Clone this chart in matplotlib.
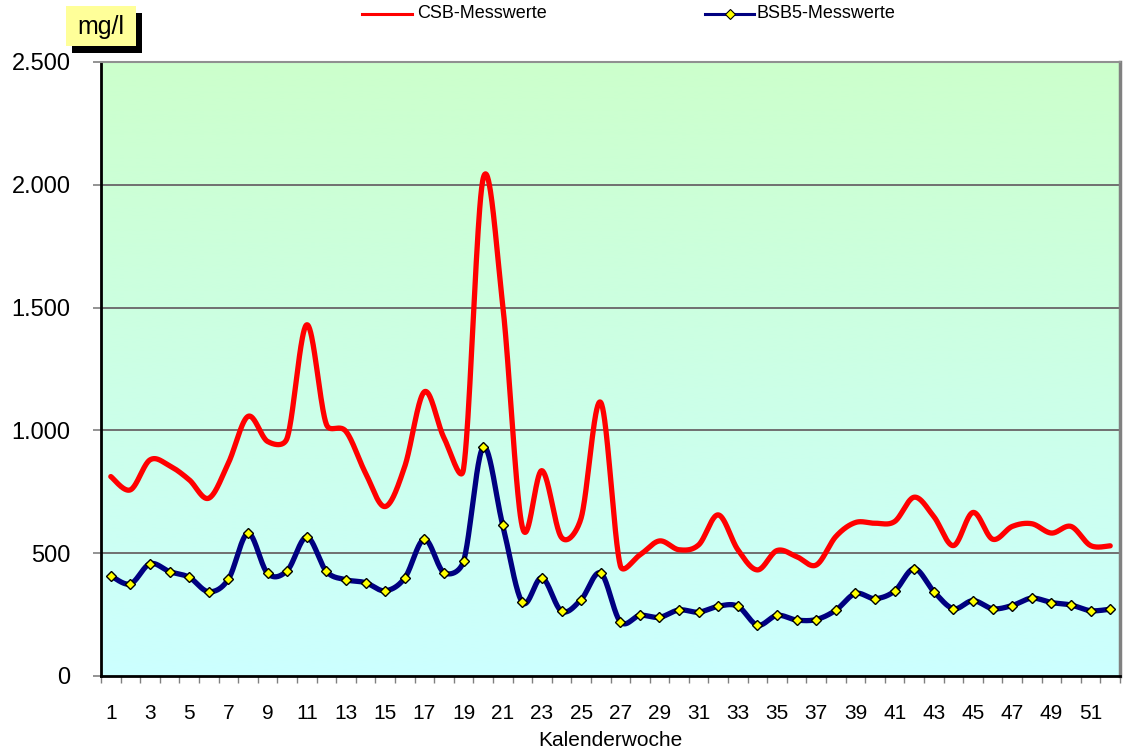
import numpy as np
import matplotlib
matplotlib.use("Agg")
import matplotlib.pyplot as plt
from matplotlib.patches import Rectangle
from matplotlib.lines import Line2D

weeks = list(range(1, 53))
csb = [812, 758, 880, 856, 799, 724, 867, 1057, 955, 969,
       1430, 1025, 996, 826, 690, 853, 1157, 970, 843, 2025,
       1510, 607, 836, 564, 643, 1114, 450, 493, 550, 514,
       534, 656, 514, 432, 511, 486, 452, 568, 625, 622,
       629, 728, 649, 531, 666, 557, 609, 620, 582, 609,
       531, 530]
bsb5 = [408, 375, 457, 425, 402, 343, 394, 581, 418, 429,
        566, 426, 392, 380, 347, 399, 557, 421, 467, 931,
        614, 300, 400, 264, 311, 419, 221, 247, 239, 269,
        260, 284, 284, 207, 247, 228, 230, 268, 336, 315,
        346, 437, 344, 274, 307, 274, 287, 317, 299, 289,
        266, 272]
yticks = [0, 500, 1000, 1500, 2000, 2500]
ytick_labels = ["0", "500", "1.000", "1.500", "2.000", "2.500"]
xtick_vals = list(range(1, 52, 2))
series_names = ["CSB-Messwerte", "BSB5-Messwerte"]
unit_label = "mg/l"
x_title = "Kalenderwoche"

FONT = "Liberation Sans"
plt.rcParams['font.family'] = [FONT, 'DejaVu Sans']

W, H = 1124, 755
fig = plt.figure(figsize=(W / 100, H / 100), dpi=100)
ax = fig.add_axes([101 / W, 79 / H, (1120 - 101) / W, 614 / H])
ax.set_xlim(0.5, 52.5)
ax.set_ylim(0, 2500)


def smooth(x, y, n=40):
    """Excel-style smoothed line: Bezier segments built in display space."""
    pts = ax.transData.transform(np.column_stack([x, y]).astype(float))
    m = len(pts)
    out = []
    for i in range(m - 1):
        p0 = pts[max(i - 1, 0)]
        p1 = pts[i]
        p2 = pts[i + 1]
        p3 = pts[min(i + 2, m - 1)]
        d02 = np.hypot(*(p2 - p0))
        d12 = np.hypot(*(p2 - p1))
        d13 = np.hypot(*(p3 - p1))
        f0 = 1 / 6
        f1 = 1 / 6
        if d02 / 6 >= d12 / 2 and d02 > 0:
            f0 = d12 / d02 / 2
        if d13 / 6 >= d12 / 2 and d13 > 0:
            f1 = d12 / d13 / 2
        c1 = p1 + f0 * (p2 - p0)
        c2 = p2 - f1 * (p3 - p1)
        t = np.linspace(0, 1, n, endpoint=(i == m - 2))[:, None]
        seg = ((1 - t) ** 3) * p1 + 3 * ((1 - t) ** 2) * t * c1 \
            + 3 * (1 - t) * t ** 2 * c2 + t ** 3 * p2
        out.append(seg)
    out = np.vstack(out)
    data = ax.transData.inverted().transform(out)
    return data[:, 0], data[:, 1]


# background gradient
top = np.array([204, 255, 204]) / 255
bot = np.array([204, 255, 255]) / 255
t = np.linspace(0, 1, 256)[:, None]
grad = (top[None, :] * (1 - t) + bot[None, :] * t)[:, None, :]
ax.imshow(grad, extent=(0.5, 52.5, 0, 2500), aspect='auto', zorder=0,
          interpolation='bilinear')
ax.set_xlim(0.5, 52.5)
ax.set_ylim(0, 2500)

for v in yticks[1:-1]:
    ax.axhline(v, color='#707070', lw=1.4, zorder=1)

xs, ys = smooth(weeks, csb)
ax.plot(xs, ys, color='#ff0000', lw=3.8, zorder=3, solid_capstyle='round')
xb, yb = smooth(weeks, bsb5)
ax.plot(xb, yb, color='#000080', lw=3.8, zorder=4, solid_capstyle='round')
ax.plot(weeks, bsb5, ls='none', marker='D', ms=5.5, mfc='#ffff00',
        mec='black', mew=1.0, zorder=5)

ax.set_yticks(yticks)
ax.set_yticklabels(ytick_labels, fontsize=17)
ax.tick_params(axis='y', direction='out', length=6, width=1.2,
               color='#808080', pad=16)

ax.set_xticks(xtick_vals)
ax.set_xticklabels([str(v) for v in xtick_vals], fontsize=15)
ax.set_xticks(np.arange(0.5, 53, 1.0), minor=True)
ax.tick_params(axis='x', which='major', length=0, pad=20)
ax.tick_params(axis='x', which='minor', direction='out', length=5,
               width=1.0, color='#808080')
ax.set_xlabel(x_title, fontsize=15, labelpad=6)

ax.spines['left'].set_color('black')
ax.spines['left'].set_linewidth(2)
ax.spines['bottom'].set_color('black')
ax.spines['bottom'].set_linewidth(2)
ax.spines['top'].set_color('#909090')
ax.spines['top'].set_linewidth(1.5)
ax.spines['right'].set_color('#808080')
ax.spines['right'].set_linewidth(2.5)


def px(x, y):
    return x / W, 1 - y / H


sx, sy = px(72, 53)
fig.patches.append(Rectangle((sx, sy), 70 / W, 40 / H, transform=fig.transFigure,
                             facecolor='black', edgecolor='none', zorder=1))
bx, by = px(66, 46)
fig.patches.append(Rectangle((bx, by), 70 / W, 40 / H, transform=fig.transFigure,
                             facecolor='#ffff99', edgecolor='none', zorder=2))
fig.text(*px(101, 27), unit_label, fontsize=18, ha='center', va='center', zorder=3)

# legend
ly = 1 - 14 / H
fig.lines.append(Line2D([362 / W, 412 / W], [ly, ly], transform=fig.transFigure,
                        color='#ff0000', lw=2.2))
fig.text(417 / W, ly, series_names[0], fontsize=13, ha='left', va='center')
fig.lines.append(Line2D([705 / W, 754 / W], [ly, ly], transform=fig.transFigure,
                        color='#000080', lw=2.2))
fig.lines.append(Line2D([730 / W], [ly], transform=fig.transFigure, ls='none',
                        marker='D', ms=5, mfc='#ffff00', mec='black', mew=0.8))
fig.text(757 / W, ly, series_names[1], fontsize=13, ha='left', va='center')

fig.savefig('out.png', dpi=100)
